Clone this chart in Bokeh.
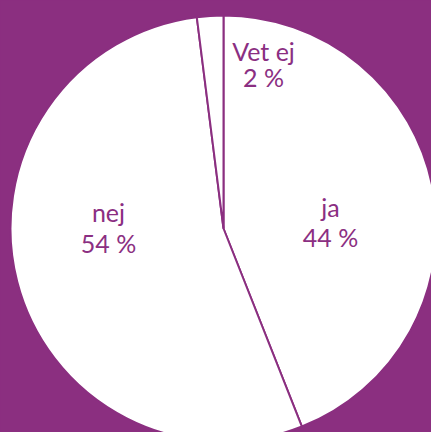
import numpy as np
from bokeh.plotting import figure
from bokeh.models import Range1d
from bokeh.core.properties import value
from bokeh.embed import file_html
from bokeh.resources import INLINE

# ---- data -------------------------------------------------------------
categories = ["ja", "nej", "Vet ej"]
shares = [44, 54, 2]
pct_labels = ["44 %", "54 %", "2 %"]

# ---- layout / style (not data) ---------------------------------------
PURPLE = "#8B2F80"
TEXT_COLOR = "#8B2F82"
W, H = 431, 432
R = 213                      # pie radius in px
CX, CY = 223, 228            # pie centre inside the canvas (px from top-left)
# label anchors relative to pie centre (px, y up): x, first baseline, second baseline
label_x = [107, -115, 40]
label_y1 = [22, 17, 178]
label_y2 = [-8, -14, 152]
FONT = "Lato"
FONT_SIZE = "25px"

p = figure(width=W, height=H, output_backend="svg", toolbar_location=None,
           x_range=Range1d(-CX, W - CX), y_range=Range1d(CY - H, CY),
           x_axis_location=None, y_axis_location=None, min_border=0,
           background_fill_color=PURPLE, border_fill_color=PURPLE,
           outline_line_color=None)
p.grid.visible = False

frac = np.array(shares, dtype=float) / sum(shares)
cum = np.concatenate([[0.0], np.cumsum(frac)])
start = np.pi / 2 - cum[:-1] * 2 * np.pi
end = np.pi / 2 - cum[1:] * 2 * np.pi

p.wedge(x=0, y=0, radius=R, start_angle=start, end_angle=end, direction="clock",
        fill_color="white", line_color=PURPLE, line_width=2)

p.text(x=label_x, y=label_y1, text=categories, text_align="center",
       text_baseline="alphabetic", text_font=value(FONT), text_font_size=FONT_SIZE,
       text_color=TEXT_COLOR)
p.text(x=label_x, y=label_y2, text=pct_labels, text_align="center",
       text_baseline="alphabetic", text_font=value(FONT), text_font_size=FONT_SIZE,
       text_color=TEXT_COLOR)

html = file_html(p, INLINE)
html = html.replace("<head>", "<head><style>html,body{margin:0;padding:0;background:#8B2F80;overflow:hidden}</style>", 1)
open("out.html", "w").write(html)
